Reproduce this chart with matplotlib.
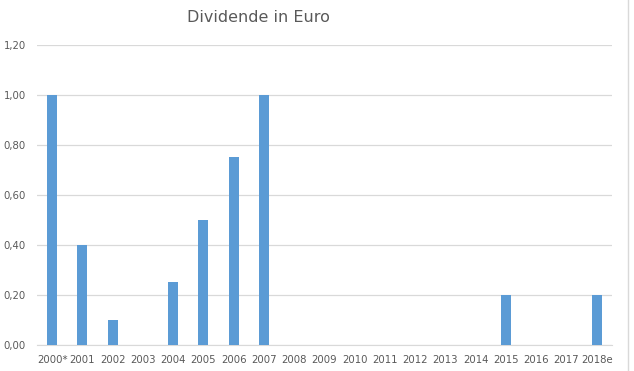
import numpy as np
import matplotlib.pyplot as plt
from matplotlib.lines import Line2D

# Daten
jahre = ['2000*', '2001', '2002', '2003', '2004', '2005', '2006', '2007', '2008',
         '2009', '2010', '2011', '2012', '2013', '2014', '2015', '2016', '2017', '2018e']
dividende = [1.00, 0.40, 0.10, 0.0, 0.25, 0.50, 0.75, 1.00, 0.0,
             0.0, 0.0, 0.0, 0.0, 0.0, 0.0, 0.20, 0.0, 0.0, 0.20]
y_ticks = [0.0, 0.2, 0.4, 0.6, 0.8, 1.0, 1.2]

fig = plt.figure(figsize=(6.34, 3.71), dpi=100)
ax = fig.add_axes([0.0584, 0.0701, 0.9066, 0.8086])

x = np.arange(len(jahre))
ax.bar(x, dividende, width=0.33, color='#5B9BD5', zorder=3)

ax.set_xlim(-0.5, len(jahre) - 0.5)
ax.set_ylim(0, 1.2)
ax.set_yticks(y_ticks)
ax.set_yticklabels([f'{v:.2f}'.replace('.', ',') for v in y_ticks])
ax.set_xticks(x)
ax.set_xticklabels(jahre)

ax.grid(axis='y', color='#D9D9D9', linewidth=0.9, zorder=0)
for s in ['top', 'right', 'left']:
    ax.spines[s].set_visible(False)
ax.spines['bottom'].set_color('#D9D9D9')
ax.tick_params(axis='both', length=0, labelsize=7.3, colors='#595959')
ax.tick_params(axis='x', pad=7)
ax.tick_params(axis='y', pad=8)

fig.text(0.408, 0.953, 'Dividende in Euro', ha='center', va='center',
         fontsize=11.5, color='#595959')

# Rahmen rechts
fig.add_artist(Line2D([0.991, 0.991], [0, 1], transform=fig.transFigure,
                      color='#D9D9D9', linewidth=1))

fig.savefig('out.png', dpi=100)
